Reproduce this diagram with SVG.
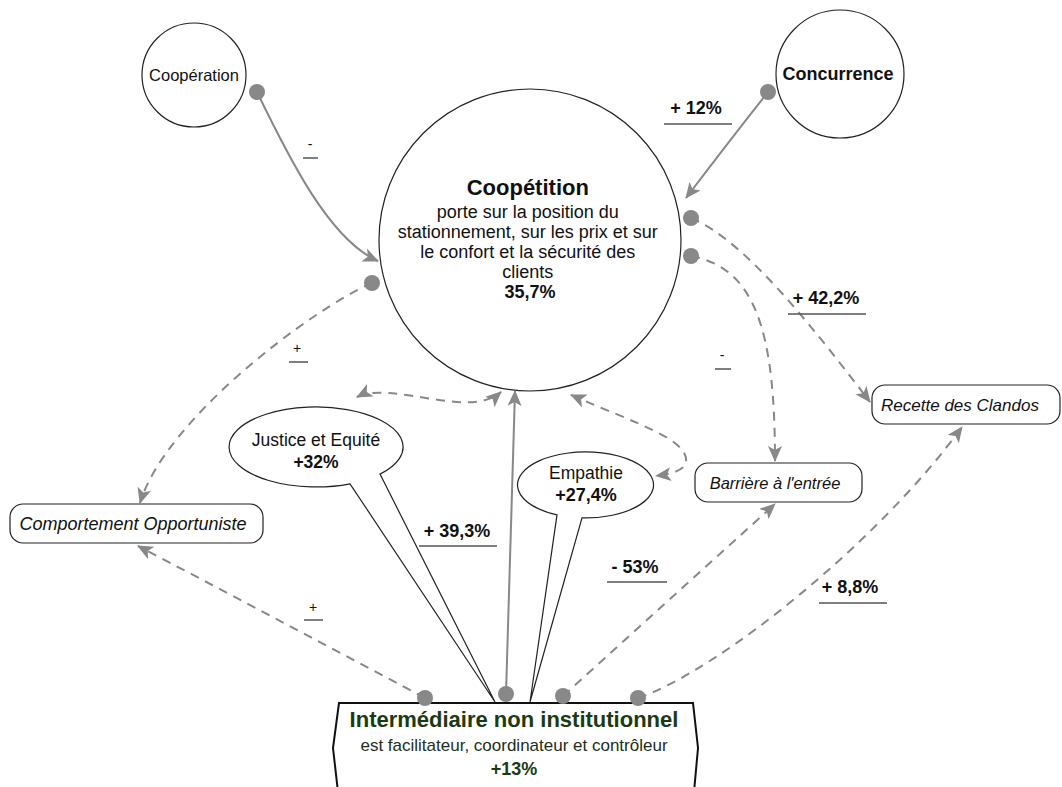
<svg xmlns="http://www.w3.org/2000/svg" width="1062" height="787" viewBox="0 0 1062 787">
<defs>
<marker id="arr" viewBox="0 0 16 14" refX="15" refY="7" markerWidth="16" markerHeight="14" markerUnits="userSpaceOnUse" orient="auto-start-reverse">
<path d="M0,0 L16,7 L0,14 L4,7 Z" fill="#888"/>
</marker>
</defs>
<style>
text{font-family:"Liberation Sans",Arial,sans-serif;fill:#111}
.b{font-weight:bold}
.i{font-style:italic}
.node{fill:#fff;stroke:#222;stroke-width:1.2}
.solid{fill:none;stroke:#888;stroke-width:2}
.dash{fill:none;stroke:#888;stroke-width:2;stroke-dasharray:9 7}
.dot{fill:#888}
.ul{stroke:#555;stroke-width:1.5}
</style>
<rect width="1062" height="787" fill="#fff"/>

<g id="cooperation">
<circle class="node" cx="194" cy="75" r="52"/>
<text x="194" y="81" font-size="16.5" text-anchor="middle">Coopération</text>
</g>

<g id="concurrence">
<circle class="node" cx="840" cy="74" r="64"/>
<text x="838" y="80" font-size="18" class="b" text-anchor="middle">Concurrence</text>
</g>

<g id="coopetition">
<circle class="node" cx="530" cy="240" r="151"/>
<text text-anchor="middle" x="530">
<tspan x="530" y="195" font-size="22" class="b">Coopétition</tspan>
<tspan x="530" y="218" font-size="18">porte sur la position du</tspan>
<tspan x="530" y="238" font-size="18">stationnement, sur les prix et sur</tspan>
<tspan x="530" y="258" font-size="18">le confort et la sécurité des</tspan>
<tspan x="530" y="278" font-size="18">clients</tspan>
<tspan x="530" y="298" font-size="18" class="b">35,7%</tspan>
</text>
</g>

<g id="comportement">
<rect class="node" x="10" y="504" width="253" height="39" rx="13"/>
<text x="133" y="530" font-size="18" class="i" text-anchor="middle">Comportement Opportuniste</text>
</g>

<g id="recette">
<rect class="node" x="872" y="385" width="188" height="39" rx="13"/>
<text x="960" y="411" font-size="17" class="i" text-anchor="middle">Recette des Clandos</text>
</g>

<g id="barriere">
<rect class="node" x="695" y="463" width="167" height="39" rx="13"/>
<text x="775" y="489" font-size="16.5" class="i" text-anchor="middle">Barrière à l'entrée</text>
</g>

<g id="justice">
<path class="node" d="M350,483.8 A87,40 0 1 1 380,474.1 L495,702 Z"/>
<text x="316" y="446" font-size="17.5" text-anchor="middle">Justice et Equité</text>
<text x="316" y="468" font-size="17.5" class="b" text-anchor="middle">+32%</text>
</g>

<g id="empathie">
<path class="node" d="M557,514.9 A68,33 0 1 1 582,517.9 L530,702 Z"/>
<text x="586" y="479" font-size="17.5" text-anchor="middle">Empathie</text>
<text x="586" y="501" font-size="18" class="b" text-anchor="middle">+27,4%</text>
</g>

<g id="intermediaire">
<path d="M339,703 L693,703 L698,748 L694,792 L338,792 L333,748 Z" fill="#fff" stroke="#111" stroke-width="2"/>
<text x="514" y="727" font-size="22" class="b" text-anchor="middle" style="fill:#1c3a12">Intermédiaire non institutionnel</text>
<text x="514" y="751" font-size="17" text-anchor="middle" style="fill:#1f2e1a">est facilitateur, coordinateur et contrôleur</text>
<text x="514" y="775" font-size="18" class="b" text-anchor="middle" style="fill:#1c3a12">+13%</text>
</g>

<g id="connectors">
<path class="solid" d="M257,92 C290,160 330,240 378,261" marker-end="url(#arr)"/>
<path class="solid" d="M768,92 Q730,140 686,198" marker-end="url(#arr)"/>
<path class="dash" d="M691,218 C745,240 815,330 870,402" marker-end="url(#arr)"/>
<path class="dash" d="M691,256 C755,268 775,330 775,461" marker-end="url(#arr)"/>
<path class="dash" d="M372,283 C310,310 165,420 140,503" marker-end="url(#arr)"/>
<path class="dash" d="M425,698 Q260,610 138,546" marker-end="url(#arr)"/>
<path class="solid" d="M506,694 L515,391" marker-end="url(#arr)"/>
<path class="dash" d="M357,397 C390,380 470,420 501,392" marker-start="url(#arr)" marker-end="url(#arr)"/>
<path class="dash" d="M571,395 C640,425 690,440 686,463 C684,470 672,474 656,476" marker-start="url(#arr)" marker-end="url(#arr)"/>
<path class="dash" d="M563,696 L775,504" marker-end="url(#arr)"/>
<path class="dash" d="M638,698 C720,670 880,540 962,427" marker-end="url(#arr)"/>

<circle class="dot" cx="257" cy="92" r="8"/>
<circle class="dot" cx="768" cy="92" r="8"/>
<circle class="dot" cx="691" cy="218" r="8"/>
<circle class="dot" cx="691" cy="256" r="8"/>
<circle class="dot" cx="372" cy="283" r="8"/>
<circle class="dot" cx="425" cy="698" r="8"/>
<circle class="dot" cx="506" cy="694" r="8"/>
<circle class="dot" cx="563" cy="696" r="8"/>
<circle class="dot" cx="638" cy="698" r="8"/>

<text x="310" y="149" font-size="14" text-anchor="middle">-</text>
<line class="ul" x1="303" y1="158" x2="318" y2="158"/>
<text x="696" y="114" font-size="18" class="b" text-anchor="middle">+ 12%</text>
<line class="ul" x1="664" y1="124" x2="732" y2="124"/>
<text x="826" y="304" font-size="18" class="b" text-anchor="middle">+ 42,2%</text>
<line class="ul" x1="788" y1="314" x2="866" y2="314"/>
<text x="722" y="360" font-size="14" text-anchor="middle">-</text>
<line class="ul" x1="715" y1="369" x2="731" y2="369"/>
<text x="297" y="353" font-size="14" text-anchor="middle">+</text>
<line class="ul" x1="289" y1="362" x2="308" y2="362"/>
<text x="457" y="537" font-size="18" class="b" text-anchor="middle">+ 39,3%</text>
<line class="ul" x1="419" y1="546" x2="497" y2="546"/>
<text x="313" y="612" font-size="14" text-anchor="middle">+</text>
<line class="ul" x1="304" y1="620" x2="323" y2="620"/>
<text x="635" y="573" font-size="18" class="b" text-anchor="middle">- 53%</text>
<line class="ul" x1="607" y1="582" x2="667" y2="582"/>
<text x="850" y="593" font-size="18" class="b" text-anchor="middle">+ 8,8%</text>
<line class="ul" x1="819" y1="603" x2="887" y2="603"/>
</g>
</svg>
